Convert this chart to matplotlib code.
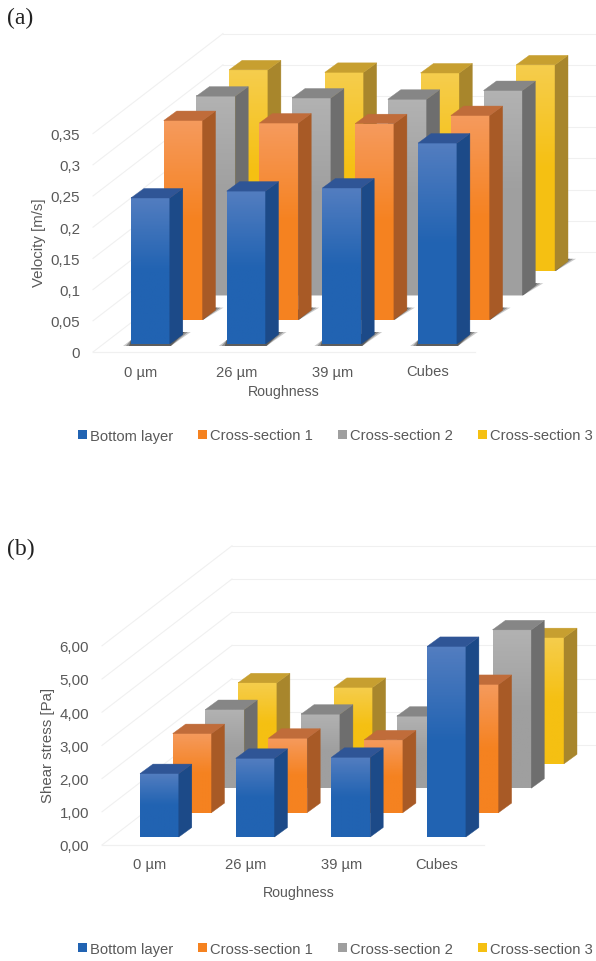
import numpy as np
import matplotlib
matplotlib.use('Agg')
import matplotlib.pyplot as plt
from matplotlib.colors import LinearSegmentedColormap
from matplotlib.patches import Patch

# Datos
categories = ['0 µm', '26 µm', '39 µm', 'Cubes']
series_names = ['Bottom layer', 'Cross-section 1', 'Cross-section 2', 'Cross-section 3']

velocity_bottom = [0.234, 0.245, 0.250, 0.322]
velocity_cs1 = [0.319, 0.315, 0.314, 0.327]
velocity_cs2 = [0.319, 0.316, 0.314, 0.328]
velocity_cs3 = [0.322, 0.318, 0.317, 0.330]
velocity_ticks = [0, 0.05, 0.1, 0.15, 0.2, 0.25, 0.3, 0.35]
velocity_labels = ['0', '0,05', '0,1', '0,15', '0,2', '0,25', '0,3', '0,35']

shear_bottom = [1.91, 2.37, 2.40, 5.74]
shear_cs1 = [2.38, 2.24, 2.19, 3.86]
shear_cs2 = [2.37, 2.23, 2.17, 4.77]
shear_cs3 = [2.44, 2.30, 2.25, 3.80]
shear_ticks = [0, 1, 2, 3, 4, 5, 6]
shear_labels = ['0,00', '1,00', '2,00', '3,00', '4,00', '5,00', '6,00']

# Colores: frente arriba, frente abajo, lado, tapa
bar_colors = [
    ('#527dc0', '#2163b2', '#1c4a88', '#2f5596'),
    ('#f59a5c', '#f58220', '#a85a26', '#c06c3a'),
    ('#b2b2b2', '#9f9f9f', '#6e6e6e', '#868686'),
    ('#f5cd4c', '#f5c012', '#a8862c', '#c79f30'),
]
text_color = '#595959'
grid_color = '#f0f0f0'

W, H = 596, 962
CAT_PX = 95.7
BAR_W = 38.8
DEPTH_X, DEPTH_Y = 130, 100
FONT = 'Liberation Sans'

fig = plt.figure(figsize=(W / 100, H / 100), dpi=100)


def draw_panel(left, bottom, top, val_px, series, ticks, labels, shadow):
    ax = fig.add_axes([left / W, 1 - bottom / H, (W - left) / W, (bottom - top) / H])
    x_min = -48 / CAT_PX
    x_max = (W - left - 48) / CAT_PX

    # rejilla: pared del fondo y lineas de profundidad
    for t in ticks:
        ax.plot([x_min, x_min + DEPTH_X / CAT_PX], [t, t + DEPTH_Y / val_px],
                color=grid_color, lw=0.8, zorder=1, clip_on=False)
        ax.plot([x_min + DEPTH_X / CAT_PX, x_max], [t + DEPTH_Y / val_px] * 2,
                color=grid_color, lw=0.8, zorder=1, clip_on=False)
    ax.plot([x_min, x_min + 382 / CAT_PX], [0, 0], color=grid_color, lw=0.9, zorder=1, clip_on=False)

    z = 2
    gradient = np.linspace(0, 1, 60)[:, None]
    for s in range(3, -1, -1):
        top_c, low_c, side_c, cap_c = bar_colors[s]
        cmap = LinearSegmentedColormap.from_list('bar', [top_c, low_c, low_c], N=128)
        for i, v in enumerate(series[s]):
            x0 = i + (-10 + s * 32.7) / CAT_PX
            x1 = x0 + BAR_W / CAT_PX
            y0 = (8 + s * 24.4) / val_px
            y1 = y0 + v
            ddx = 13 / CAT_PX
            ddy = 9.5 / val_px

            if shadow:
                # sombra en el suelo; por delante y a la izquierda solo en la primera fila
                below = 2 / val_px if s == 0 else 0
                for grow, alpha in [(8, 0.25), (5, 0.35), (2, 0.5)]:
                    g_x = grow / CAT_PX
                    g_left = g_x if s == 0 else 0
                    ax.fill([x0 - g_left, x1 + 1 / CAT_PX, x1 + ddx + g_x, x1 + ddx, x0],
                            [y0 - below, y0 - below, y0 + ddy + 2.5 / val_px,
                             y0 + ddy + 2.5 / val_px, y0 + 4 / val_px],
                            color='#2a2a2a', alpha=alpha, lw=0, zorder=z)
                z += 1

            ax.imshow(gradient, cmap=cmap, aspect='auto', extent=(x0, x1, y0, y1),
                      interpolation='bilinear', zorder=z)
            ax.fill([x1, x1 + ddx, x1 + ddx, x1], [y0, y0 + ddy, y1 + ddy, y1],
                    facecolor=side_c, edgecolor=side_c, lw=0.3, zorder=z)
            ax.fill([x0, x1, x1 + ddx, x0 + ddx], [y1, y1, y1 + ddy, y1 + ddy],
                    facecolor=cap_c, edgecolor=cap_c, lw=0.3, zorder=z)
            z += 1

    ax.set_xlim(x_min, x_max)
    ax.set_ylim(0, (bottom - top) / val_px)
    ax.set_xticks(range(len(categories)))
    ax.set_xticklabels(categories, family=FONT, fontsize=10.6, color=text_color)
    ax.set_yticks(ticks)
    ax.set_yticklabels(labels, family=FONT, fontsize=10.9, color=text_color)
    ax.tick_params(axis='x', length=0, pad=9)
    ax.tick_params(axis='y', length=0, pad=9.4)
    for sp in ax.spines.values():
        sp.set_visible(False)
    ax.patch.set_alpha(0)
    return ax


velocity = [velocity_bottom, velocity_cs1, velocity_cs2, velocity_cs3]
shear = [shear_bottom, shear_cs1, shear_cs2, shear_cs3]

draw_panel(93, 353, 34, 624, velocity, velocity_ticks, velocity_labels, True)
draw_panel(102, 846, 546, 33.2, shear, shear_ticks, shear_labels, False)


def px_text(x, y, s, **kw):
    fig.text(x / W, 1 - y / H, s, ha='center', va='center', **kw)


px_text(39, 243, 'Velocity [m/s]', rotation=90, family=FONT, fontsize=10.8, color=text_color)
px_text(48, 745, 'Shear stress [Pa]', rotation=90, family=FONT, fontsize=10.8, color=text_color)
px_text(284, 392, 'Roughness', family=FONT, fontsize=10.2, color=text_color)
px_text(299, 893, 'Roughness', family=FONT, fontsize=10.2, color=text_color)
px_text(20, 18, '(a)', family='Liberation Serif', fontsize=17, color='#222222')
px_text(21, 549, '(b)', family='Liberation Serif', fontsize=17, color='#222222')

# Leyendas
for y in [436.5, 950]:
    handles = [Patch(facecolor=c[1], edgecolor='none', label=n) for c, n in zip(bar_colors, series_names)]
    leg = fig.legend(handles=handles, loc='center left', bbox_to_anchor=(78 / W, 1 - y / H),
                     bbox_transform=fig.transFigure, ncol=4, frameon=False, borderpad=0, borderaxespad=0,
                     handlelength=0.6, handleheight=0.6, handletextpad=0.2, columnspacing=1.72,
                     prop={'family': FONT, 'size': 10.6}, labelcolor=text_color)

fig.savefig('out.png', dpi=100, facecolor='white')
